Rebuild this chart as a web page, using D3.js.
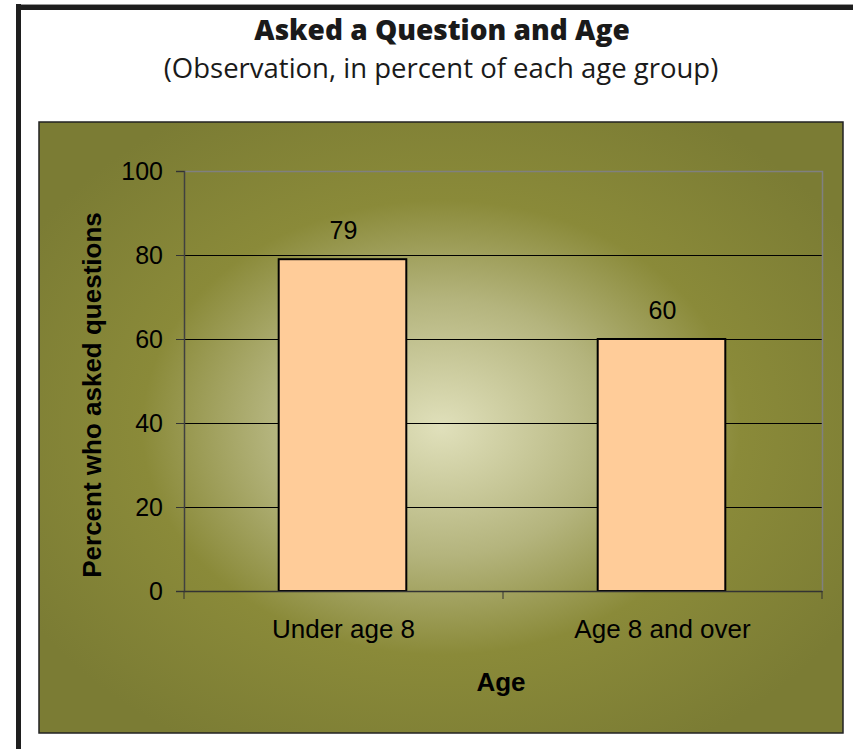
<!DOCTYPE html>
<html>
<head>
<meta charset="utf-8">
<script src="https://cdn.jsdelivr.net/npm/d3@7"></script>
<style>
  body { margin: 0; background: #fff; }
  svg { display: block; }
</style>
</head>
<body>
<div id="chart"></div>
<script>
// data
var categories = ["Under age 8", "Age 8 and over"];
var values = [79, 60];
var yTicks = [0, 20, 40, 60, 80, 100];

var width = 853, height = 749;

var svg = d3.select("#chart").append("svg")
    .attr("width", width)
    .attr("height", height);

// page frame (top + left rule)
svg.append("rect").attr("x", 16).attr("y", 4).attr("width", width - 16).attr("height", 1).attr("fill", "#999");
svg.append("rect").attr("x", 16).attr("y", 5).attr("width", width - 16).attr("height", 5).attr("fill", "#1e1e1e");
svg.append("rect").attr("x", 16).attr("y", 4).attr("width", 5).attr("height", height).attr("fill", "#1e1e1e");

// titles
svg.append("text")
    .attr("x", 442).attr("y", 40)
    .attr("text-anchor", "middle")
    .style("font-family", "'Open Sans', sans-serif")
    .style("font-weight", "800")
    .style("font-size", "28px")
    .attr("fill", "#1a1a1a")
    .text("Asked a Question and Age");

svg.append("text")
    .attr("x", 441).attr("y", 78)
    .attr("text-anchor", "middle")
    .style("font-family", "'Open Sans', sans-serif")
    .style("font-size", "27.5px")
    .attr("fill", "#1a1a1a")
    .text("(Observation, in percent of each age group)");

// chart panel with centre gradient
var defs = svg.append("defs");
var grad = defs.append("radialGradient")
    .attr("id", "bg")
    .attr("cx", "0.5").attr("cy", "0.5").attr("r", "0.6");
grad.append("stop").attr("offset", "0").attr("stop-color", "#e0e0bb");
grad.append("stop").attr("offset", "0.35").attr("stop-color", "#b4b47d");
grad.append("stop").attr("offset", "0.62").attr("stop-color", "#8a8a39");
grad.append("stop").attr("offset", "1").attr("stop-color", "#7b7c34");

svg.append("rect")
    .attr("x", 39).attr("y", 122)
    .attr("width", 804).attr("height", 611)
    .attr("fill", "url(#bg)")
    .attr("stroke", "#222")
    .attr("stroke-width", 1.5);

var plot = {left: 184, right: 822, top: 171, bottom: 591};

var x = d3.scaleBand()
    .domain(categories)
    .range([plot.left, plot.right])
    .paddingInner(0)
    .paddingOuter(0);

var y = d3.scaleLinear()
    .domain([0, 100])
    .range([plot.bottom, plot.top]);

var g = svg.append("g");

// gridlines
g.selectAll("line.grid")
    .data(yTicks.filter(function(d) { return d > 0 && d < 100; }))
    .enter().append("line")
    .attr("class", "grid")
    .attr("x1", plot.left).attr("x2", plot.right)
    .attr("y1", function(d) { return y(d) + 0.5; })
    .attr("y2", function(d) { return y(d) + 0.5; })
    .attr("stroke", "#000")
    .attr("stroke-width", 1);

// plot area border (top, right) grey
g.append("path")
    .attr("d", "M" + plot.left + "," + (plot.top + 0.5) + "H" + (plot.right + 0.5) + "V" + plot.bottom)
    .attr("fill", "none")
    .attr("stroke", "#808080")
    .attr("stroke-width", 1.5);

// bars
var barW = x.bandwidth() / 2.5;
g.selectAll("rect.bar")
    .data(values)
    .enter().append("rect")
    .attr("class", "bar")
    .attr("x", function(d, i) { return x(categories[i]) + (x.bandwidth() - barW) / 2 - 1; })
    .attr("y", function(d) { return y(d); })
    .attr("width", barW)
    .attr("height", function(d) { return y(0) - y(d); })
    .attr("fill", "#ffcc99")
    .attr("stroke", "#000")
    .attr("stroke-width", 2);

// data labels
g.selectAll("text.val")
    .data(values)
    .enter().append("text")
    .attr("class", "val")
    .attr("x", function(d, i) { return x(categories[i]) + x.bandwidth() / 2; })
    .attr("y", function(d) { return y(d) - 20; })
    .attr("text-anchor", "middle")
    .style("font-family", "'Liberation Sans', Arial, sans-serif")
    .style("font-size", "25px")
    .attr("fill", "#000")
    .text(function(d) { return d; });

// y axis
var yAxis = d3.axisLeft(y)
    .tickValues(yTicks)
    .tickSize(8)
    .tickPadding(13)
    .tickFormat(d3.format("d"));

var yg = svg.append("g")
    .attr("transform", "translate(" + plot.left + ",0)")
    .call(yAxis);
yg.select(".domain").attr("stroke", "#404040").attr("stroke-width", 1.5);
yg.selectAll(".tick line").attr("stroke", "#333");
yg.selectAll(".tick text")
    .style("font-family", "'Liberation Sans', Arial, sans-serif")
    .style("font-size", "25px")
    .attr("fill", "#000");

// x axis
var xAxis = d3.axisBottom(x)
    .tickSize(0)
    .tickPadding(29);

var xg = svg.append("g")
    .attr("transform", "translate(0," + plot.bottom + ")")
    .call(xAxis);
xg.select(".domain").attr("stroke", "#333").attr("stroke-width", 1.5);
xg.selectAll(".tick text")
    .style("font-family", "'Liberation Sans', Arial, sans-serif")
    .style("font-size", "26px")
    .attr("fill", "#000");

// category boundary ticks
var bounds = categories.map(function(c) { return x(c); }).concat([plot.right]);
xg.selectAll("line.sep")
    .data(bounds)
    .enter().append("line")
    .attr("class", "sep")
    .attr("x1", function(d) { return d; })
    .attr("x2", function(d) { return d; })
    .attr("y1", 0).attr("y2", 8)
    .attr("stroke", "#333");

// axis titles
svg.append("text")
    .attr("x", 501).attr("y", 691)
    .attr("text-anchor", "middle")
    .style("font-family", "'Liberation Sans', Arial, sans-serif")
    .style("font-weight", "bold")
    .style("font-size", "26px")
    .attr("fill", "#000")
    .text("Age");

svg.append("text")
    .attr("transform", "translate(101,395) rotate(-90)")
    .attr("text-anchor", "middle")
    .style("font-family", "'Liberation Sans', Arial, sans-serif")
    .style("font-weight", "bold")
    .style("font-size", "26px")
    .attr("fill", "#000")
    .text("Percent who asked questions");
</script>
</body>
</html>
